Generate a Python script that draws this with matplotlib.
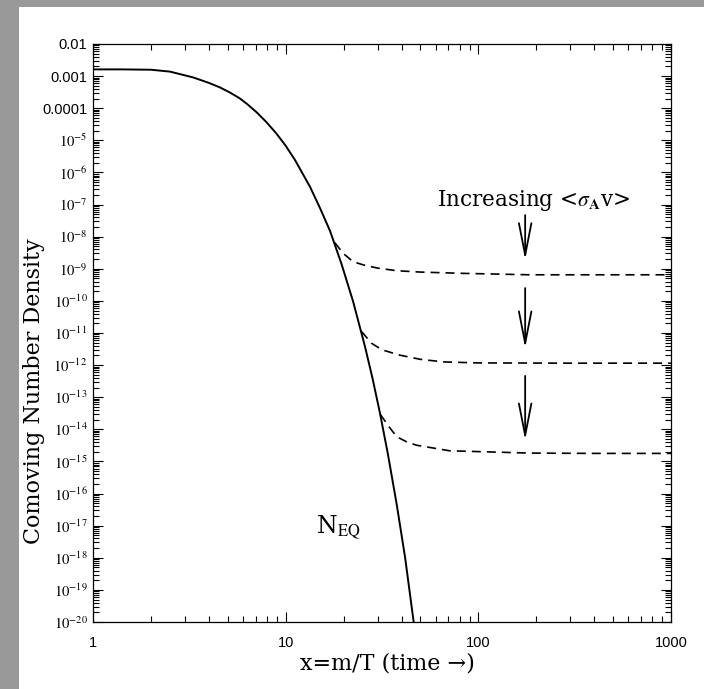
import matplotlib
matplotlib.use("Agg")
import matplotlib.pyplot as plt
from matplotlib.patches import Rectangle
from matplotlib.ticker import LogLocator, NullFormatter

# ---- data ----
eq_x = [1.0, 1.41, 2.0, 2.51, 3.31, 3.98, 4.54, 5.13, 5.77, 6.31, 7.08, 7.94,
        8.93, 10.0, 11.2, 13.4, 15.1, 17.0, 19.5, 22.4, 25.8, 28.2, 30.8,
        33.9, 37.7, 41.7, 46.4, 49.0]
eq_y = [1.62e-3, 1.62e-3, 1.58e-3, 1.38e-3, 9.1e-4, 6.2e-4, 4.5e-4, 3.1e-4,
        2.04e-4, 1.35e-4, 7.4e-5, 3.7e-5, 1.66e-5, 6.8e-6, 2.4e-6, 3.5e-7,
        7.6e-8, 1.5e-8, 1.4e-9, 9.5e-11, 3.8e-12, 4.0e-13, 3.4e-14, 1.75e-15,
        4.6e-17, 1.0e-18, 8.0e-21, 8.5e-22]

fo1_x = [18.0, 19.9, 22.4, 25.3, 30.0, 37.7, 50.0, 83.0, 185.0, 500.0, 1000.0]
fo1_y = [6.5e-9, 3.0e-9, 1.66e-9, 1.32e-9, 1.05e-9, 8.7e-10, 7.9e-10,
         7.2e-10, 6.5e-10, 6.5e-10, 6.5e-10]

fo2_x = [24.8, 27.9, 31.6, 39.2, 50.1, 65.8, 100.0, 316.0, 1000.0]
fo2_y = [1.1e-11, 4.8e-12, 3.0e-12, 2.04e-12, 1.51e-12, 1.26e-12, 1.17e-12,
         1.15e-12, 1.15e-12]

fo3_x = [31.0, 34.7, 37.7, 42.7, 47.8, 71.2, 83.5, 185.0, 400.0, 1000.0]
fo3_y = [2.9e-14, 1.12e-14, 5.9e-15, 4.0e-15, 3.2e-15, 2.14e-15, 2.09e-15,
         1.82e-15, 1.78e-15, 1.78e-15]

arrow_x = 175.0
arrow_tops = [4.7e-8, 2.5e-10, 4.6e-13]
arrow_tips = [1.9e-9, 3.4e-12, 4.6e-15]

ytick_vals = [10.0 ** (-k) for k in range(2, 21)]
ytick_labels = ["0.01", "0.001", "0.0001"] + [r"$10^{-%d}$" % k for k in range(5, 21)]
xtick_vals = [1, 10, 100, 1000]
xtick_labels = ["1", "10", "100", "1000"]

# ---- figure ----
plt.rcParams['mathtext.fontset'] = 'stix'
plt.rcParams['lines.scale_dashes'] = False
W, H = 704, 689
fig = plt.figure(figsize=(W / 100, H / 100), dpi=100)
fig.patch.set_facecolor('#999999')
bg = Rectangle((19 / W, 0), (W - 19) / W, (H - 7) / H,
               transform=fig.transFigure, facecolor='white',
               edgecolor='none', zorder=-10)
fig.add_artist(bg)

ax = fig.add_axes([93 / W, 1 - 622 / H, (671 - 93) / W, (622 - 44) / H])
ax.set_zorder(5)
ax.set_facecolor('white')
ax.set_xscale('log')
ax.set_yscale('log')
ax.set_xlim(1, 1000)
ax.set_ylim(1e-20, 1e-2)

ax.plot(eq_x, eq_y, color='black', lw=1.4, solid_joinstyle='round')
for fx, fy in [(fo1_x, fo1_y), (fo2_x, fo2_y), (fo3_x, fo3_y)]:
    ax.plot(fx, fy, color='black', lw=1.2, linestyle=(0, (6.5, 4.3)))

for top, tip in zip(arrow_tops, arrow_tips):
    ax.annotate('', xy=(arrow_x, tip), xytext=(arrow_x, top),
                arrowprops=dict(arrowstyle='->,head_length=2.3,head_width=0.45',
                                lw=1.3, color='black', shrinkA=0, shrinkB=0,
                                mutation_scale=10))

serif = ['DejaVu Serif']
ax.text(60.7, 8.9e-8, r'Increasing <$\sigma_{\mathbf{A}}$v>', fontsize=15.5,
        family=serif, ha='left', va='baseline')
ax.text(14.3, 5.9e-18, r'N$_{\mathrm{EQ}}$', fontsize=17, family=serif,
        ha='left', va='baseline')

ax.set_xticks(xtick_vals, xtick_labels)
ax.set_yticks(ytick_vals, ytick_labels)
ax.xaxis.set_minor_locator(LogLocator(base=10, subs=range(2, 10), numticks=100))
ax.yaxis.set_minor_locator(LogLocator(base=10, subs=range(2, 10), numticks=100))
ax.xaxis.set_minor_formatter(NullFormatter())
ax.yaxis.set_minor_formatter(NullFormatter())
ax.tick_params(which='both', direction='in', top=True, right=True, width=0.8)
ax.tick_params(which='major', length=7.2)
ax.tick_params(which='minor', length=4.3)
ax.tick_params(axis='x', pad=10, labelsize=10.5)
ax.tick_params(axis='y', pad=4, labelsize=10.5)
for lab in ax.get_xticklabels() + ax.get_yticklabels():
    lab.set_family(['Liberation Sans'])
for s in ax.spines.values():
    s.set_linewidth(0.9)

ax.set_xlabel('x=m/T (time \u2192)', fontsize=16, family=serif)
ax.xaxis.set_label_coords(0.510, -0.052)
ax.set_ylabel('Comoving Number Density', fontsize=16, family=serif)
ax.yaxis.set_label_coords(-0.083, 0.40)

fig.savefig('out.png', dpi=100, facecolor=fig.get_facecolor())
